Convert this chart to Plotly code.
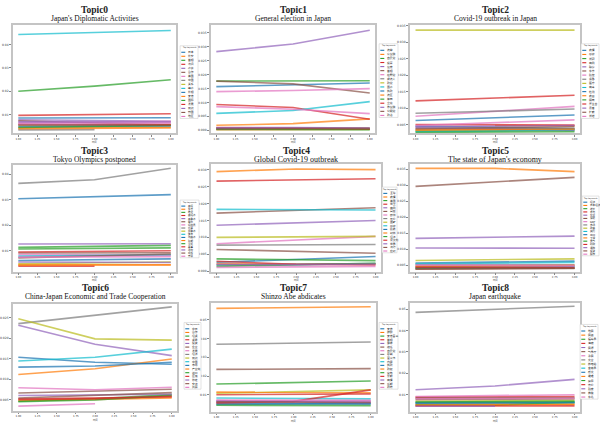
import plotly.graph_objects as go

# ---------------- data ----------------
periods = [1, 2, 3]
x_ticks = [1.0, 1.25, 1.5, 1.75, 2.0, 2.25, 2.5, 2.75, 3.0]

topic_titles = ["Topic0", "Topic1", "Topic2", "Topic3", "Topic4",
                "Topic5", "Topic6", "Topic7", "Topic8"]
topic_subtitles = ["Japan's Diplomatic Activities", "General election in Japan",
                   "Covid-19 outbreak in Japan", "Tokyo Olympics postponed",
                   "Global Covid-19 outbreak", "The state of Japan's economy",
                   "China-Japan Economic and Trade Cooperation",
                   "Shinzo Abe abdicates", "Japan earthquake"]

topic0_keywords = ["日本", "外交", "首相", "访问", "会谈", "合作", "美国", "中国", "关系",
                   "峰会", "外相", "安倍", "国际", "发展", "双边", "韩国", "地区"]
topic0_values = [[0.0086, 0.0086, 0.0087], [0.0044, 0.0045, 0.0046], [0.0200, 0.0222, 0.0249],
                 [0.0097, 0.0100, 0.0104], [0.0078, 0.0075, 0.0072], [0.0074, 0.0066, 0.0056],
                 [0.0066, 0.0068, 0.0072], [0.0035, 0.0036, None], [0.0054, 0.0055, 0.0057],
                 [0.0443, 0.0452, 0.0460], [0.0050, 0.0051, 0.0052], [0.0040, 0.0041, 0.0043],
                 [0.0045, 0.0049, 0.0054], [0.0057, 0.0057, 0.0058], [0.0069, 0.0070, 0.0068],
                 [0.0059, 0.0058, 0.0055], [0.0061, 0.0063, 0.0064]]

topic1_keywords = ["选举", "众议院", "自民党", "投票", "议席", "首相", "在野党", "候选人", "政党",
                   "国会", "执政", "选区", "岸田", "立宪", "参议院", "公明党", "政治"]
topic1_values = [[0.0157, 0.0163, 0.0170], [0.0018, 0.0024, 0.0041], [0.0177, 0.0177, 0.0178],
                 [0.0093, 0.0082, 0.0040], [0.0283, 0.0310, 0.0360], [0.0177, 0.0167, 0.0134],
                 [0.0139, 0.0143, 0.0150], [0.0008, 0.0007, 0.0006], [0.0004, 0.0004, 0.0003],
                 [0.0061, 0.0071, 0.0103], [0.0006, 0.0005, 0.0005], [0.0002, 0.0003, 0.0004],
                 [0.0003, 0.0002, 0.0002], [0.0010, 0.0008, 0.0006], [0.0009, 0.0010, 0.0008],
                 [0.0005, 0.0006, 0.0007], [0.0085, 0.0076, 0.0060]]

topic2_keywords = ["疫情", "感染", "新冠", "病例", "确诊", "东京", "防控", "紧急", "医疗",
                   "病毒", "检测", "疫苗", "隔离", "厚生省", "患者", "扩散", "新增"]
topic2_values = [[0.0062, 0.0070, 0.0079], [None, 0.0047, 0.0046], [0.0030, 0.0031, 0.0032],
                 [0.0122, 0.0131, 0.0139], [0.0040, 0.0037, 0.0033], [0.0035, 0.0036, 0.0037],
                 [0.0075, 0.0090, 0.0105], [0.0084, 0.0090, 0.0097], [0.0337, 0.0337, 0.0337],
                 [0.0028, 0.0030, 0.0035], [0.0045, 0.0042, 0.0038], [0.0033, 0.0034, 0.0036],
                 [0.0026, 0.0027, 0.0028], [0.0050, 0.0049, 0.0048], [0.0043, 0.0045, 0.0047],
                 [0.0038, 0.0040, 0.0043], [0.0047, 0.0055, 0.0064]]

topic3_keywords = ["奥运", "东京", "推迟", "奥运会", "奥委会", "举办", "运动员", "比赛", "组委会",
                   "体育", "残奥会", "延期", "火炬", "赛事", "场馆", "观众", "开幕"]
topic3_values = [[0.0304, 0.0311, 0.0320], [0.0047, 0.0046, 0.0045], [0.0114, 0.0118, 0.0122],
                 [0.0041, 0.0041, None], [0.0127, 0.0127, 0.0128], [0.0092, 0.0092, 0.0093],
                 [0.0086, 0.0085, 0.0083], [0.0364, 0.0378, 0.0423], [0.0050, 0.0053, 0.0057],
                 [0.0080, 0.0082, 0.0085], [0.0063, 0.0066, 0.0069], [0.0044, 0.0044, 0.0046],
                 [0.0108, 0.0110, 0.0112], [0.0096, 0.0099, 0.0101], [0.0057, 0.0056, 0.0055],
                 [0.0073, 0.0080, 0.0088], [0.0076, 0.0077, 0.0078]]

topic4_keywords = ["全球", "疫情", "美国", "世卫", "病例", "蔓延", "欧洲", "死亡", "国家",
                   "感染", "防疫", "封锁", "经济", "意大利", "世界", "流行", "应对"]
topic4_values = [[0.0026, 0.0034, 0.0043], [0.0295, 0.0303, 0.0301], [0.0036, 0.0034, 0.0031],
                 [0.0267, 0.0270, 0.0274], [0.0136, 0.0143, 0.0150], [0.0172, 0.0180, 0.0188],
                 [0.0081, 0.0092, 0.0103], [0.0077, 0.0078, 0.0079], [0.0100, 0.0101, 0.0103],
                 [0.0183, 0.0182, 0.0181], [0.0018, 0.0020, 0.0022], [0.0022, 0.0020, 0.0021],
                 [0.0014, 0.0018, 0.0023], [0.0029, 0.0020, 0.0018], [0.0020, 0.0019, 0.0021],
                 [0.0064, 0.0058, 0.0053], [0.0011, 0.0012, 0.0014]]

topic5_keywords = ["经济", "日本经济", "增长", "日元", "企业", "消费", "GDP", "市场", "政策",
                   "央行", "出口", "下滑", "景气", "财政", "通胀", "投资", "股市"]
topic5_values = [[0.0057, 0.0060, 0.0063], [0.0352, 0.0352, 0.0342], [0.0045, 0.0046, 0.0047],
                 [0.0039, 0.0040, 0.0041], [0.0134, 0.0137, 0.0141], [0.0296, 0.0310, 0.0324],
                 [0.0049, 0.0048, 0.0047], [0.0053, 0.0052, 0.0052], [0.0065, 0.0067, 0.0070],
                 [0.0055, 0.0057, 0.0059], [0.0042, 0.0043, 0.0044], [0.0047, 0.0049, 0.0050],
                 [0.0040, 0.0040, 0.0041], [0.0044, 0.0043, 0.0042], [0.0104, 0.0104, 0.0103],
                 [0.0038, 0.0039, 0.0040], [0.0051, 0.0050, 0.0049]]

topic6_keywords = ["中日", "合作", "经贸", "贸易", "投资", "企业", "发展", "经济", "双边",
                   "中国", "市场", "产业链", "进口", "区域", "协定", "交流", "共赢"]
topic6_values = [[0.0153, 0.0141, 0.0136], [0.0111, 0.0125, 0.0149], [0.0046, 0.0052, 0.0062],
                 [0.0052, 0.0054, 0.0056], [0.0231, 0.0185, 0.0157], [0.0066, 0.0070, 0.0075],
                 [0.0079, 0.0074, 0.0080], [0.0235, 0.0256, 0.0276], [0.0247, 0.0198, 0.0195],
                 [0.0144, 0.0153, 0.0173], [0.0129, 0.0132, 0.0141], [0.0048, 0.0050, 0.0054],
                 [0.0045, 0.0049, 0.0060], [0.0050, 0.0052, 0.0058], [0.0060, 0.0061, 0.0063],
                 [0.0054, 0.0060, 0.0067], [0.0034, 0.0040, None]]

topic7_keywords = ["安倍", "辞职", "安倍晋三", "首相", "健康", "继任", "自民党", "总裁", "菅义伟",
                   "内阁", "执政", "政权", "宣布", "长期", "病情", "任期", "政府"]
topic7_values = [[0.0048, 0.0050, 0.0055], [0.0560, 0.0565, 0.0569], [0.0157, 0.0165, 0.0173],
                 [0.0100, 0.0102, 0.0105], [0.0069, 0.0063, 0.0057], [0.0235, 0.0237, 0.0239],
                 [0.0060, 0.0062, 0.0064], [0.0369, 0.0375, 0.0381], [0.0108, 0.0116, 0.0126],
                 [0.0083, 0.0080, 0.0078], [0.0053, 0.0052, 0.0050], [0.0114, 0.0114, 0.0113],
                 [0.0044, 0.0043, 0.0042], [0.0057, 0.0065, 0.0126], [0.0066, 0.0066, 0.0067],
                 [0.0062, 0.0060, 0.0059], [0.0072, 0.0071, 0.0070]]

topic8_keywords = ["地震", "震级", "福岛县", "海啸", "震源", "气象厅", "余震", "灾害", "核电站",
                   "宫城县", "受灾", "避难", "房屋", "伤亡", "烈度", "救援", "东北"]
topic8_values = [[0.0059, 0.0060, 0.0061], [0.0054, 0.0055, 0.0056], [0.0052, 0.0051, 0.0066],
                 [0.0089, 0.0090, 0.0092], [0.0123, 0.0141, 0.0172], [0.0077, 0.0078, 0.0080],
                 [0.0092, 0.0096, 0.0100], [0.0485, 0.0500, 0.0514], [0.0069, 0.0071, 0.0073],
                 [0.0064, 0.0063, 0.0063], [0.0062, 0.0064, 0.0065], [0.0050, 0.0052, 0.0054],
                 [0.0066, 0.0067, 0.0069], [0.0047, 0.0047, 0.0048], [0.0046, 0.0046, None],
                 [0.0084, 0.0085, 0.0086], [0.0081, 0.0082, 0.0083]]

y_ranges = [[0.0020, 0.0484], [-0.0011, 0.0379], [0.0023, 0.0353],
            [0.0019, 0.0435], [-0.0002, 0.0317], [0.0030, 0.0365],
            [0.0022, 0.0284], [0.0008, 0.0591], [0.0019, 0.0531]]
y_ticks = [[0.01, 0.02, 0.03, 0.04],
           [0.000, 0.005, 0.010, 0.015, 0.020, 0.025, 0.030, 0.035],
           [0.005, 0.010, 0.015, 0.020, 0.025, 0.030, 0.035],
           [0.01, 0.02, 0.03, 0.04],
           [0.000, 0.005, 0.010, 0.015, 0.020, 0.025, 0.030],
           [0.005, 0.010, 0.015, 0.020, 0.025, 0.030, 0.035],
           [0.005, 0.010, 0.015, 0.020, 0.025],
           [0.01, 0.02, 0.03, 0.04, 0.05],
           [0.01, 0.02, 0.03, 0.04, 0.05]]
y_formats = [".2f", ".3f", ".3f", ".2f", ".3f", ".3f", ".3f", ".2f", ".2f"]

all_keywords = [topic0_keywords, topic1_keywords, topic2_keywords, topic3_keywords,
                topic4_keywords, topic5_keywords, topic6_keywords, topic7_keywords,
                topic8_keywords]
all_values = [topic0_values, topic1_values, topic2_values, topic3_values, topic4_values,
              topic5_values, topic6_values, topic7_values, topic8_values]

# ---------------- layout geometry (pixels) ----------------
W, H = 600, 424
frames = [(10, 174, 24, 133), (209, 374, 24, 133), (409, 580, 24, 133),
          (10, 174, 165, 272), (209, 380, 164, 272), (409, 580, 164, 272),
          (10, 175, 304, 412), (209, 375, 303, 413), (409, 580, 303, 413)]
legend_boxes = [(178, 196, 45, 118), (378, 397, 43, 117), (581, 599, 43, 118),
                (178, 197, 200, 258), (381, 396, 187, 253), (582, 599, 196, 256),
                (182, 199, 323, 390), (378, 397, 323, 390), (580, 598, 325, 400)]
title_y = [9, 9, 9, 150.3, 150.3, 150.3, 288, 288, 288]
sub_y = [18, 18, 18, 159.5, 159.5, 159.5, 297, 297, 297]
sub_size = [7.5, 7.5, 7.5, 7.5, 8, 8, 7.5, 7.5, 7.5]

tab10 = ["#1f77b4", "#ff7f0e", "#2ca02c", "#d62728", "#9467bd",
         "#8c564b", "#e377c2", "#7f7f7f", "#bcbd22", "#17becf"]


def px(x):
    return x / W


def py(y):
    return 1 - y / H


fig = go.Figure()
annotations = []
shapes = []

for k in range(9):
    ax_id = "" if k == 0 else str(k + 1)
    x0, x1, y0, y1 = frames[k]
    for i, (kw, vals) in enumerate(zip(all_keywords[k], all_values[k])):
        fig.add_trace(go.Scatter(
            x=periods, y=vals, mode="lines", name=kw,
            line=dict(color=tab10[i % 10], width=1.6), opacity=0.72,
            showlegend=False, connectgaps=False, hoverinfo="skip",
            xaxis="x" + ax_id, yaxis="y" + ax_id))
    fig.update_layout({
        "xaxis" + ax_id: dict(
            domain=[px(x0), px(x1)], range=[0.93, 3.07], anchor="y" + ax_id,
            tickvals=x_ticks, ticktext=[f"{t:.2f}" for t in x_ticks],
            showgrid=False, zeroline=False, showline=True, mirror=True,
            linecolor="#c4c4c4", linewidth=1.5, ticks="outside", ticklen=1.5,
            tickcolor="#888", tickwidth=0.5,
            tickfont=dict(size=2.6, color="#333", family="DejaVu Sans")),
        "yaxis" + ax_id: dict(
            domain=[py(y1), py(y0)], range=y_ranges[k], anchor="x" + ax_id,
            tickvals=y_ticks[k], tickformat=y_formats[k],
            showgrid=False, zeroline=False, showline=True, mirror=True,
            linecolor="#c4c4c4", linewidth=1.5, ticks="outside", ticklen=2,
            tickcolor="#888", tickwidth=0.5,
            tickfont=dict(size=3, color="#333", family="DejaVu Sans")),
    })
    cx = (x0 + x1) / 2
    annotations.append(dict(
        x=px(cx), y=py(title_y[k]), xref="paper", yref="paper", showarrow=False,
        text="<b>" + topic_titles[k] + "</b>", xanchor="center", yanchor="middle",
        font=dict(size=9.5, family="Liberation Serif", color="#222")))
    annotations.append(dict(
        x=px(cx), y=py(sub_y[k]), xref="paper", yref="paper", showarrow=False,
        text=topic_subtitles[k], xanchor="center", yanchor="middle",
        font=dict(size=sub_size[k], family="Liberation Serif", color="#111")))
    annotations.append(dict(
        x=px(cx), y=py(y1 + 8.8), xref="paper", yref="paper", showarrow=False,
        text="时间", xanchor="center", yanchor="middle",
        font=dict(size=2.3, family="Noto Sans CJK SC", color="#333")))

    # legend drawn by hand (tiny, like the reference)
    lx0, lx1, ly0, ly1 = legend_boxes[k]
    shapes.append(dict(type="rect", xref="paper", yref="paper",
                       x0=px(lx0), x1=px(lx1), y0=py(ly1), y1=py(ly0),
                       line=dict(color="#d0d0d0", width=0.6), fillcolor="white"))
    n = len(all_keywords[k])
    annotations.append(dict(
        x=px((lx0 + lx1) / 2), y=py(ly0 + 2.0), xref="paper", yref="paper",
        showarrow=False, text="Top keywords", xanchor="center", yanchor="middle",
        font=dict(size=2.0, family="DejaVu Sans", color="#333")))
    step = (ly1 - ly0 - 4.5) / n
    fsize = min(2.8, step * 0.8)
    for i, kw in enumerate(all_keywords[k]):
        yy = ly0 + 4.5 + step * (i + 0.5)
        shapes.append(dict(type="line", xref="paper", yref="paper",
                           x0=px(lx0 + 1.2), x1=px(lx0 + 5.2), y0=py(yy), y1=py(yy),
                           line=dict(color=tab10[i % 10], width=1.1)))
        annotations.append(dict(
            x=px(lx0 + 6), y=py(yy), xref="paper", yref="paper", showarrow=False,
            text=kw, xanchor="left", yanchor="middle",
            font=dict(size=fsize, family="Noto Sans CJK SC", color="#222")))

fig.update_layout(
    width=W, height=H, margin=dict(l=0, r=0, t=0, b=0),
    paper_bgcolor="white", plot_bgcolor="white",
    annotations=annotations, shapes=shapes, showlegend=False,
)

fig.write_html("out.html", include_plotlyjs=True, config={"displayModeBar": False})
